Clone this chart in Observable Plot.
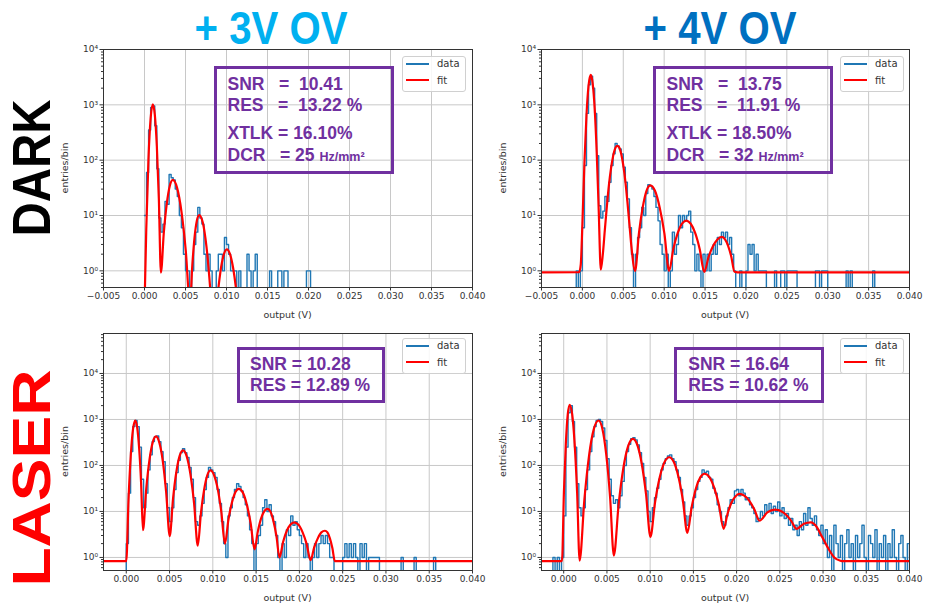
<!DOCTYPE html>
<html><head><meta charset="utf-8">
<script src="https://cdn.jsdelivr.net/npm/d3@7"></script>
<script src="https://cdn.jsdelivr.net/npm/@observablehq/plot@0.6"></script>
<style>
html,body{margin:0;padding:0;background:#fff;}
body{width:925px;height:604px;position:relative;overflow:hidden;font-family:"Liberation Sans",Arial,sans-serif;}
.t{position:absolute;white-space:pre;line-height:1;}
.box{position:absolute;border:3px solid #7030A0;box-sizing:border-box;}
.leg{position:absolute;border:1px solid #d0d0d0;border-radius:3px;background:rgba(255,255,255,0.85);box-sizing:border-box;}
</style></head><body>
<script>
// ---------- DATA (x in mV, counts per bin) ----------
const binW = 0.25; // mV bin width of the histograms

// + 3V OV, DARK
const p1Start = 0.0;
const p1Counts = [10,60,350,900,950,420,70,9,5,7,18,16,55,48,44,30,22,10,6,2,1,1,0,1,3,5,14,9,7,2,1,2,1,0,0,1,2,2,1,4,3,2,1,1,1,0,1,0,0,0,2,1,0,1,2,0,0,0,0,0,0,1,0,0,0,1,1,0,1,1,0,0,0,0,0,0,0,0,0,1,1,0];
const p1Fit = [[-0.05,0.1],[0.215,5.6],[0.48,102],[0.75,575],[1.01,1020],[1.26,660],[1.505,178],[1.75,20],[2.0,0.93],[2.36,5.0],[2.725,16.7],[3.09,34.5],[3.45,44],[3.975,31.6],[4.5,12],[5.025,2.4],[5.55,0.25],[5.83,1.26],[6.11,4.1],[6.39,8.1],[6.67,10.2],[7.115,7.4],[7.56,2.7],[8.0,0.51],[8.45,0.05],[8.85,0.28],[9.245,0.93],[9.64,1.9],[10.04,2.45],[10.43,2.0],[10.82,1.1],[11.21,0.41],[11.6,0.1]];

// + 4V OV, DARK
const p2Start = -1.0;
const p2Counts = [0,1,0,1,6,80,700,2300,3300,2000,700,120,15,9,12,22,18,40,80,130,200,180,160,130,75,40,20,6,2,0,2,4,6,14,10,25,36,34,30,22,14,8,3,2,1,2,0,1,5,2,3,10,6,10,8,10,12,5,3,1,2,1,0,2,1,2,1,2,3,2,4,3,5,4,5,3,4,2,1,0,0,1,0,0,1,3,2,3,1,2,1,1,1,1,0,0,0,0,1,0,0,1,1,0,1,1,1,1,1,0,0,0,0,0,0,0,0,0,1,1,0,1,1,1,0,0,0,0,0,0,0,0,0,1,0,1,0,0,0,0,0,0,0,0,0,0,1,0];
const p2Fit = [[-5,0.94],[-0.4,0.95],[-0.2,1.3],[0.0,7],[0.25,90],[0.5,650],[0.75,2200],[1.02,3470],[1.25,2500],[1.5,870],[1.75,140],[2.0,12],[2.25,1.05],[2.5,2.0],[2.75,5.6],[3.0,15],[3.25,36],[3.5,71],[3.75,117],[4.0,161],[4.25,182],[4.5,170],[4.75,129],[5.0,81],[5.25,42],[5.5,18],[5.75,7],[6.0,2.7],[6.45,1.0],[6.91,4.7],[7.375,14],[7.84,28],[8.3,35],[8.875,28],[9.45,14],[10.03,4.7],[10.6,1.0],[11.125,2.5],[11.65,4.8],[12.18,7.1],[12.7,8.1],[13.25,7.1],[13.8,4.8],[14.35,2.45],[14.9,0.96],[15.44,1.8],[15.98,2.8],[16.51,3.7],[17.05,4.1],[17.44,3.7],[17.83,2.8],[18.21,1.8],[18.6,0.96],[19.0,0.94],[40,0.94]];

// + 3V OV, LASER
const p3Start = -0.5;
const p3Counts = [0,0,2,25,200,700,950,700,250,50,12,25,80,170,330,420,440,330,200,120,40,12,6,12,30,70,130,190,230,190,150,90,50,20,6,5,8,15,30,55,90,80,70,55,30,15,6,2,1,8,12,20,30,40,35,28,20,14,8,4,2,0,2,3,5,12,18,10,14,8,6,3,1,0,2,1,4,3,8,5,6,4,3,2,1,2,1,0,1,2,1,2,3,2,3,2,1,1,0,0,0,0,1,2,1,2,1,2,1,0,2,1,2,0,1,1,1,1,1,0,0,0,0,0,0,0,0,0,0,1,0,0,0,0,0,1,0,0,0,0,0,0,0,0,1,0];
const p3Fit = [[-2.63,0.83],[0.0,0.83],[0.26,18],[0.52,163],[0.78,617],[1.04,950],[1.26,676],[1.485,240],[1.71,43],[1.93,3.9],[2.3,30],[2.68,132],[3.055,318],[3.43,427],[3.83,310],[4.225,123],[4.61,26],[5.02,2.9],[5.405,19],[5.79,73],[6.175,163],[6.56,213],[6.985,158],[7.41,65],[7.835,15],[8.26,1.8],[8.63,9.3],[9.0,30],[9.36,61],[9.73,78],[10.15,61],[10.565,31],[10.98,9.8],[11.4,2.0],[11.8,6.6],[12.2,15.5],[12.6,26],[13.0,31],[13.455,26],[13.91,14.5],[14.365,5.6],[14.82,1.5],[15.19,3.6],[15.56,6.9],[15.93,10],[16.3,11.4],[16.65,10],[17.0,6.2],[17.35,2.9],[17.7,1.0],[18.125,2.2],[18.55,3.8],[18.975,5.2],[19.4,5.8],[19.875,5.2],[20.35,3.6],[20.825,2.0],[21.3,0.87],[21.71,1.66],[22.125,2.6],[22.54,3.5],[22.95,3.8],[23.24,3.5],[23.525,2.6],[23.81,1.6],[24.1,0.83],[40,0.83]];

// + 4V OV, LASER
const p4Start = -2.5;
const p4Counts = [0,0,0,0,0,1,0,1,0,1,8,250,1400,2000,900,250,40,12,8,12,30,80,200,420,700,950,1000,900,650,350,140,50,22,15,18,12,22,45,100,200,290,380,400,360,280,190,110,55,28,10,6,12,20,32,50,80,110,140,160,170,140,120,80,55,30,16,8,5,8,12,20,30,45,55,80,70,75,55,50,32,25,14,10,6,5,8,12,18,15,28,30,22,30,25,18,20,14,12,9,6,7,10,8,14,10,15,9,13,10,16,8,12,7,9,5,7,4,5,3,6,4,9,5,12,7,5,8,4,3,5,2,4,1,3,0,5,2,1,3,0,2,4,1,2,0,3,1,2,5,1,0,3,2,1,4,0,2,1,3,0,2,1,4,1,0,2,3,1,0,2];
const p4Fit = [[-2.57,0.83],[-0.2,0.83],[0.0225,26],[0.245,295],[0.4675,1290],[0.69,2090],[0.98,1290],[1.265,295],[1.55,26],[1.84,0.85],[2.39,18],[2.935,166],[3.48,617],[4.03,950],[4.47,630],[4.915,176],[5.36,21],[5.8,1.1],[6.35,14],[6.9,88],[7.45,263],[8.0,380],[8.51,282],[9.015,112],[9.52,24],[10.03,2.8],[10.57,16],[11.115,56],[11.66,118],[12.2,151],[12.725,120],[13.25,59],[13.775,18],[14.3,3.4],[14.8,12.3],[15.3,32],[15.8,55],[16.3,66],[16.85,56],[17.4,33],[17.95,14],[18.5,4.2],[18.95,8.9],[19.4,15.5],[19.85,21],[20.3,24],[20.89,22],[21.475,17],[22.06,11],[22.65,6.3],[23.55,9.5],[24.45,11],[25.7,8.6],[26.3,6.3],[26.95,4.2],[27.78,5.4],[28.6,5.8],[29.3,4.5],[29.8,3.0],[30.5,1.7],[31.3,1.0],[32.0,0.85],[32.3,0.83],[40,0.83]];

// tick values
const xTicksTop = [-0.005,0,0.005,0.010,0.015,0.020,0.025,0.030,0.035,0.040];
const xTicksBottom = [0,0.005,0.010,0.015,0.020,0.025,0.030,0.035,0.040];
const yTicks = [1,10,100,1000,10000];
const yTickLabels = ["10⁰","10¹","10²","10³","10⁴"];

// box annotations
const p1Stats = ["SNR   =  10.41","RES   =  13.22 %","XTLK = 16.10%","DCR   = 25 "];
const p2Stats = ["SNR   =  13.75","RES   =  11.91 %","XTLK = 18.50%","DCR   = 32 "];
const p3Stats = ["SNR = 10.28","RES = 12.89 %"];
const p4Stats = ["SNR = 16.64","RES = 10.62 %"];
const dcrUnit = "Hz/mm²";
const colLabels = ["+ 3V OV","+ 4V OV"];
const rowLabels = ["DARK","LASER"];
const legendLabels = ["data","fit"];

// ---------- helpers ----------
const BLUE = "#1f77b4", RED = "#ff0000", PURPLE = "#7030A0";
const SVGNS = "http://www.w3.org/2000/svg";
function addDiv(cls, css, html){const d=document.createElement("div");d.className=cls;Object.assign(d.style,css);if(html!=null)d.innerHTML=html;document.body.appendChild(d);return d;}
// text with baseline at y
function addText(txt,x,base,size,css){return addDiv("t",Object.assign({left:x+"px",top:(base-0.8465*size)+"px",fontSize:size+"px"},css||{}),txt);}
// horizontal text centred at (cx,cy)
function addCentered(txt,cx,cy,size,css){
  const d=addDiv("t",Object.assign({left:"0px",top:"0px",fontSize:size+"px"},css||{}),txt);
  const w=d.offsetWidth,h=d.offsetHeight;
  d.style.left=(cx-w/2)+"px";d.style.top=(cy-h/2)+"px";
  return d;
}
// one full-page svg overlay for the big labels and rotated axis titles
const overlay=document.createElementNS(SVGNS,"svg");
overlay.setAttribute("width",925);overlay.setAttribute("height",604);
Object.assign(overlay.style,{position:"absolute",left:"0px",top:"0px"});
function addSvgLabel(txt,cx,cy,size,color,rot,len,family,weight){
  const t=document.createElementNS(SVGNS,"text");
  t.setAttribute("transform",`translate(${cx},${cy}) rotate(${rot})`);
  t.setAttribute("text-anchor","middle");t.setAttribute("dominant-baseline","central");
  t.setAttribute("font-family",family||"Liberation Sans, Arial, sans-serif");
  t.setAttribute("font-weight",weight||"bold");t.setAttribute("font-size",size);t.setAttribute("fill",color);
  if(len){t.setAttribute("textLength",len);t.setAttribute("lengthAdjust","spacingAndGlyphs");}
  t.textContent=txt;overlay.appendChild(t);return t;
}
const supFmt = v => { const i = yTicks.indexOf(v); return i>=0 ? yTickLabels[i] : ""; };
const xFmt = d3.format(".3f");

function panel(o){
  const [fx0,fy0,fx1,fy1]=o.frame;
  const mL=50,mR=20,mT=10,mB=40;
  const W=fx1-fx0+mL+mR,H=fy1-fy0+mT+mB;
  const hist=o.counts.map((c,i)=>({x:(o.start+i*binW)/1000,y:c>0?c:0.05}));
  hist.push({x:(o.start+o.counts.length*binW)/1000,y:0.05});
  const fit=o.fit.map(([x,y])=>({x:x/1000,y}));
  const minor=[];
  for(let k=-1;k<=5;k++)for(let m=2;m<=9;m++){const v=m*Math.pow(10,k);if(v>=o.yDomain[0]&&v<=o.yDomain[1])minor.push(v);}
  const svg=Plot.plot({
    width:W,height:H,marginLeft:mL,marginRight:mR,marginTop:mT,marginBottom:mB,
    style:{background:"transparent",overflow:"visible",fontFamily:"DejaVu Sans",fontSize:"9px",color:"#333"},
    x:{domain:o.xDomain},
    y:{type:"log",domain:o.yDomain},
    marks:[
      Plot.gridX(o.xTicks,{stroke:"#c8c8c8",strokeOpacity:1,strokeWidth:1}),
      Plot.gridY(yTicks,{stroke:"#c8c8c8",strokeOpacity:1,strokeWidth:1}),
      Plot.line(hist,{x:"x",y:"y",curve:"step-after",stroke:BLUE,strokeWidth:1.4,clip:true}),
      Plot.line(fit,{x:"x",y:"y",curve:"monotone-x",stroke:RED,strokeWidth:2.2,clip:true}),
      Plot.frame({stroke:"#333",strokeWidth:1}),
      Plot.axisX(o.xTicks,{tickSize:3.5,tickPadding:2,tickFormat:xFmt,label:null}),
      Plot.axisY(yTicks,{tickSize:3.5,tickPadding:2,tickFormat:supFmt,label:null}),
      Plot.axisY(minor,{tickSize:2,tickFormat:()=>"",label:null})
    ]
  });
  svg.style.position="absolute";svg.style.left=(fx0-mL)+"px";svg.style.top=(fy0-mT)+"px";
  document.body.appendChild(svg);
  // axis titles
  addCentered("output (V)",(fx0+fx1)/2,fy1+28,9.5,{fontFamily:"DejaVu Sans",color:"#333"});
  addSvgLabel("entries/bin",fx0-39,(fy0+fy1)/2,9.5,"#333",-90,null,"DejaVu Sans","normal");
  // legend
  const [lx,ly]=o.legend;
  addDiv("leg",{left:lx+"px",top:ly+"px",width:"64px",height:"36px"});
  [[BLUE,0],[RED,1]].forEach(([c,i])=>{
    const yy=ly+7.5+i*16.7;
    addDiv("t",{left:(lx+4)+"px",top:(yy-1)+"px",width:"23px",height:"2px",background:c});
    addText(legendLabels[i],lx+35,yy+4,10,{fontFamily:"DejaVu Sans",color:"#333"});
  });
  // stats box
  const [bx0,by0,bx1,by1]=o.box;
  addDiv("box",{left:bx0+"px",top:by0+"px",width:(bx1-bx0)+"px",height:(by1-by0)+"px"});
  o.stats.forEach((s,i)=>{
    const html = (o.unit && i===3) ? s+'<span style="font-size:12.5px">'+dcrUnit+'</span>' : s;
    addText(html,o.textX,o.baselines[i],17.5,{fontWeight:"bold",color:PURPLE});
  });
}

panel({frame:[103,49,472,287],start:p1Start,counts:p1Counts,fit:p1Fit,xDomain:[-0.005,0.040],yDomain:[0.5,10000],xTicks:xTicksTop,
  legend:[402,56],box:[214,66,394,174],stats:p1Stats,unit:true,textX:227.5,baselines:[91,112.3,140,161.7]});
panel({frame:[541,49,909,287],start:p2Start,counts:p2Counts,fit:p2Fit,xDomain:[-0.005,0.040],yDomain:[0.5,10000],xTicks:xTicksTop,
  legend:[840,56],box:[653,66,833,174],stats:p2Stats,unit:true,textX:666.5,baselines:[91,112.3,140,161.7]});
panel({frame:[103,333,472,570],start:p3Start,counts:p3Counts,fit:p3Fit,xDomain:[-0.00263,0.040],yDomain:[0.52,74000],xTicks:xTicksBottom,
  legend:[402,338],box:[237,347,385,403],stats:p3Stats,unit:false,textX:250,baselines:[370.7,391.7]});
panel({frame:[541,333,909,570],start:p4Start,counts:p4Counts,fit:p4Fit,xDomain:[-0.00257,0.040],yDomain:[0.52,74000],xTicks:xTicksBottom,
  legend:[840,338],box:[674,347,824,403],stats:p4Stats,unit:false,textX:688.3,baselines:[370.7,391.7]});

// big labels
addSvgLabel(colLabels[0],271,28,46,"#00B0F0",0,153);
addSvgLabel(colLabels[1],720,28,46,"#0070C0",0,153);
addSvgLabel(rowLabels[0],31,168,54,"#000000",-90,137);
addSvgLabel(rowLabels[1],31,478,54,"#FF0000",-90,217);
document.body.appendChild(overlay);
</script>
</body></html>
